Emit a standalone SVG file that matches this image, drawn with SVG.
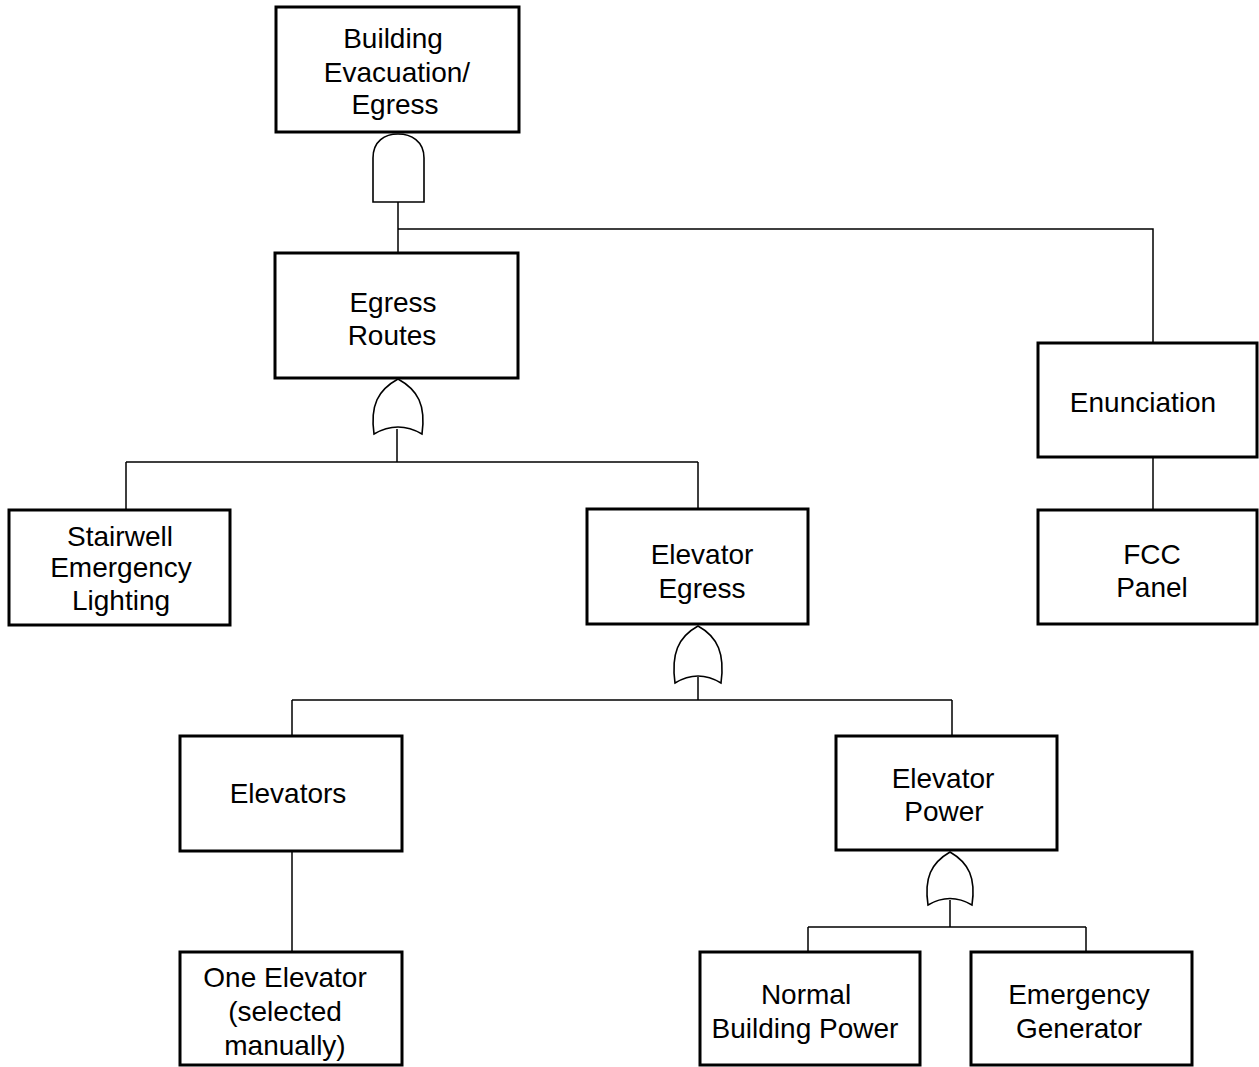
<svg xmlns="http://www.w3.org/2000/svg" width="1259" height="1067" viewBox="0 0 1259 1067">
<style>
.box{fill:#fff;stroke:#000;stroke-width:3}
.gate{fill:#fff;stroke:#000;stroke-width:1.6}
.ln{fill:none;stroke:#000;stroke-width:1.5}
text{font-family:"Liberation Sans",Arial,sans-serif;font-size:28px;fill:#000;text-anchor:middle}
</style>
<rect width="1259" height="1067" fill="#fff"/>
<g id="connectors">
<path class="ln" d="M398 202V253M398 229H1153V343"/>
<path class="ln" d="M397 429V462M126 462H698M126 462V510M698 462V509"/>
<path class="ln" d="M698 677V700M292 700H952M292 700V736M952 700V736"/>
<path class="ln" d="M950 900V927M808 927H1086M808 927V952M1086 927V952"/>
<path class="ln" d="M292 851V952"/>
<path class="ln" d="M1153 457V510"/>
</g>
<g id="gate-and">
<path class="gate" d="M373 202V158C373 141 385 134 398 134C411 134 424 141 424 158V202Z"/>
</g>
<g id="gate-or1">
<path class="gate" d="M398 379C418 390 426 405 422 434Q398 420 374 434C370 405 378 390 398 379Z"/>
</g>
<g id="gate-or2">
<path class="gate" d="M698 626C718 637 725 654 721 683Q698 669 675 683C671 654 678 637 698 626Z"/>
</g>
<g id="gate-or3">
<path class="gate" d="M950 852C969 863 976 878 972 905Q950 892 928 905C924 878 931 863 950 852Z"/>
</g>
<g id="n-building">
<rect class="box" x="276" y="7" width="243" height="125"/>
<text x="393" y="48">Building</text>
<text x="397" y="82">Evacuation/</text>
<text x="395" y="114">Egress</text>
</g>
<g id="n-egress-routes">
<rect class="box" x="275" y="253" width="243" height="125"/>
<text x="393" y="312">Egress</text>
<text x="392" y="345">Routes</text>
</g>
<g id="n-stairwell">
<rect class="box" x="9" y="510" width="221" height="115"/>
<text x="120" y="546">Stairwell</text>
<text x="121" y="577">Emergency</text>
<text x="121" y="610">Lighting</text>
</g>
<g id="n-elevator-egress">
<rect class="box" x="587" y="509" width="221" height="115"/>
<text x="702" y="564">Elevator</text>
<text x="702" y="598">Egress</text>
</g>
<g id="n-enunciation">
<rect class="box" x="1038" y="343" width="219" height="114"/>
<text x="1143" y="412">Enunciation</text>
</g>
<g id="n-fcc">
<rect class="box" x="1038" y="510" width="219" height="114"/>
<text x="1152" y="564">FCC</text>
<text x="1152" y="597">Panel</text>
</g>
<g id="n-elevators">
<rect class="box" x="180" y="736" width="222" height="115"/>
<text x="288" y="803">Elevators</text>
</g>
<g id="n-elevator-power">
<rect class="box" x="836" y="736" width="221" height="114"/>
<text x="943" y="788">Elevator</text>
<text x="944" y="821">Power</text>
</g>
<g id="n-one-elevator">
<rect class="box" x="180" y="952" width="222" height="113"/>
<text x="285" y="987">One Elevator</text>
<text x="285" y="1021">(selected</text>
<text x="285" y="1055">manually)</text>
</g>
<g id="n-normal-power">
<rect class="box" x="700" y="952" width="220" height="113"/>
<text x="806" y="1004">Normal</text>
<text x="805" y="1038">Building Power</text>
</g>
<g id="n-emergency-gen">
<rect class="box" x="971" y="952" width="221" height="113"/>
<text x="1079" y="1004">Emergency</text>
<text x="1079" y="1038">Generator</text>
</g>
</svg>
